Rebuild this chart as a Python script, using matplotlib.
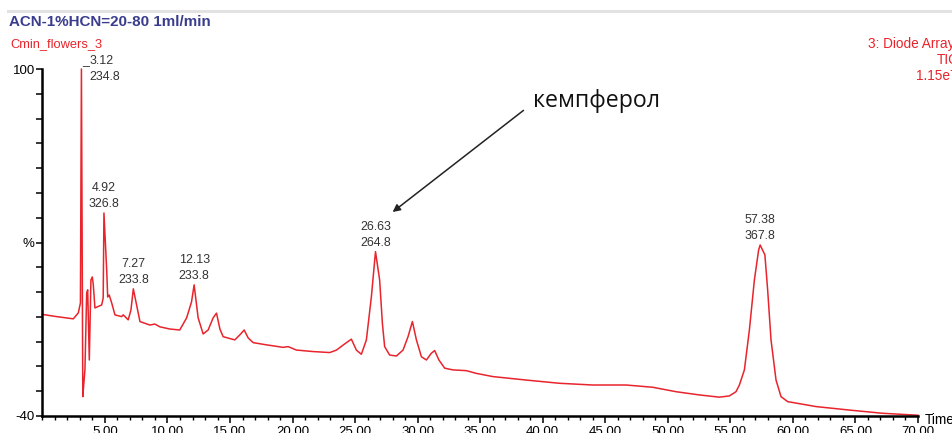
import numpy as np
import matplotlib
matplotlib.use("Agg")
import matplotlib.pyplot as plt
from matplotlib.lines import Line2D

plt.rcParams['font.family'] = ['Liberation Sans', 'DejaVu Sans']

# retention time, min / relative signal, %
rt = [0.0, 1.0, 2.47, 2.87, 3.04, 3.12, 3.23, 3.31, 3.40, 3.54, 3.62, 3.75, 3.88, 3.99, 4.07, 4.20,
      4.74, 4.86, 4.92, 5.14, 5.22, 5.34, 5.54, 5.80, 6.33, 6.46, 6.86, 7.08, 7.27, 7.61, 7.80,
      8.59, 8.99, 9.38, 10.18, 10.98, 11.53, 11.92, 12.13, 12.45, 12.85, 13.25, 13.65, 13.92,
      14.19, 14.45, 15.38, 15.78, 16.13, 16.45, 16.85, 17.92, 19.24, 19.64, 20.31, 21.64, 22.97,
      23.51, 24.17, 24.70, 25.10, 25.50, 25.90, 26.30, 26.63, 26.96, 27.18, 27.36, 27.76, 28.30,
      28.83, 29.23, 29.58, 29.90, 30.30, 30.70, 31.09, 31.36, 31.70, 32.16, 32.82, 33.89, 34.69,
      36.01, 38.68, 41.34, 44.00, 46.67, 48.79, 50.66, 52.52, 54.12, 54.92, 55.45, 55.72, 56.12,
      56.52, 56.92, 57.26, 57.38, 57.76, 57.98, 58.25, 58.65, 59.05, 59.58, 61.85, 64.50, 67.17,
      70.0]
signal = [1.0, 0.2, -0.8, 1.6, 5.6, 100.0, -32.2, -27.0, -21.4, 9.6, 10.9, -17.4, 14.9, 16.1, 12.9, 3.6,
          4.8, 7.6, 41.9, 18.9, 8.0, 8.8, 5.6, 0.8, 0.1, 0.8, -1.2, 2.8, 11.3, 2.8, -1.9,
          -3.3, -2.9, -4.0, -4.9, -5.3, -0.4, 6.0, 12.9, -0.4, -6.9, -5.3, -0.4, 1.5,
          -4.9, -8.0, -9.3, -7.3, -5.3, -8.5, -10.4, -11.3, -12.3, -12.0, -13.4, -14.0, -14.4,
          -13.4, -10.9, -9.0, -13.4, -15.1, -9.3, 8.1, 26.3, 14.9, -2.6, -12.0, -15.4, -15.8,
          -13.4, -8.0, -1.9, -9.3, -16.1, -17.4, -14.7, -13.6, -17.4, -20.7, -21.4, -21.7, -22.8,
          -24.1, -25.5, -26.8, -27.5, -27.5, -28.4, -30.2, -31.5, -32.4, -31.9, -30.2, -27.5, -21.4,
          -5.3, 14.9, 27.0, 29.0, 25.0, 10.9, -9.3, -25.5, -32.2, -34.2, -36.2, -37.6, -38.9,
          -39.7]

peak_rt = [3.12, 4.92, 7.27, 12.13, 26.63, 57.38]
peak_nm = ["234.8", "326.8", "233.8", "233.8", "264.8", "367.8"]

xticks = [5, 10, 15, 20, 25, 30, 35, 40, 45, 50, 55, 60, 65, 70]
xticklabels = ["%.2f" % v for v in xticks]

W, H = 952, 433
fig = plt.figure(figsize=(W / 100, H / 100), dpi=100)
ax = fig.add_axes([42.4 / W, 1 - 416 / H, (918 - 42.4) / W, (416 - 69) / H])

red = '#e8242c'
ax.plot(rt, signal, color=red, lw=1.1, clip_on=False)
ax.set_xlim(0, 70)
ax.set_ylim(-40, 100)

for s in ['top', 'right']:
    ax.spines[s].set_visible(False)
for s in ['left', 'bottom']:
    ax.spines[s].set_linewidth(1.8)

ax.set_xticks(xticks)
ax.set_xticklabels(xticklabels)
ax.set_xticks(np.arange(0, 71, 1), minor=True)
ax.tick_params(axis='x', which='major', length=5, width=1.1, pad=2.5, labelsize=9.5)
ax.tick_params(axis='x', which='minor', length=3, width=1.0)

yt = list(range(-40, 101, 10))
ax.set_yticks(yt)
ax.set_yticklabels(['-40' if v == -40 else '100' if v == 100 else '%' if v == 30 else '' for v in yt])
ax.tick_params(axis='y', length=4, width=1.1, pad=1.5, labelsize=9.5)

ax.text(70.5, -41.6, "Time", fontsize=9.8, va='center', ha='left', clip_on=False)

# peak labels
for t, nm in zip(peak_rt, peak_nm):
    h = np.interp(t, rt, signal)
    if t == peak_rt[0]:
        ax.annotate("%.2f\n%s" % (t, nm), xy=(t, h), xytext=(6, 10), textcoords='offset points',
                    ha='left', va='top', fontsize=8.9, color='#333333', linespacing=1.45,
                    annotation_clip=False)
        ax.annotate("_", xy=(t, h), xytext=(5.5, 10), textcoords='offset points',
                    ha='right', va='top', fontsize=8.9, color='#333333', annotation_clip=False)
    else:
        ax.annotate("%.2f\n%s" % (t, nm), xy=(t, h), xytext=(0, 2), textcoords='offset points',
                    ha='center', va='bottom', fontsize=8.9, color='#333333', linespacing=1.45,
                    annotation_clip=False)

# kaempferol arrow
ax.annotate("", xy=(28.0, 42.3), xytext=(38.46, 83.3),
            arrowprops=dict(arrowstyle='-|>', color='#222222', lw=1.1, mutation_scale=11,
                            shrinkA=0, shrinkB=0), annotation_clip=False)
ax.text(39.2, 87.1, "кемпферол", fontsize=16.7, family=['Open Sans', 'DejaVu Sans'],
        ha='left', va='center', color='#111111', clip_on=False)

# header
fig.add_artist(Line2D([8 / W, 1], [1 - 11 / H] * 2, color='#e2e2e2', lw=2.2))
fig.text(9 / W, 1 - 22 / H, "ACN-1%HCN=20-80 1ml/min", fontsize=10.9, fontweight='bold',
         color='#3a3d8e', va='center', ha='left')
fig.text(10 / W, 1 - 44 / H, "Cmin_flowers_3", fontsize=9.3, color=red, va='center', ha='left')
fig.text(868 / W, 1 - 44 / H, "3: Diode Array", fontsize=9.8, color=red, va='center', ha='left')
fig.text(937 / W, 1 - 60 / H, "TIC", fontsize=9.8, color=red, va='center', ha='left')
fig.text(916 / W, 1 - 76 / H, "1.15e7", fontsize=9.8, color=red, va='center', ha='left')

fig.savefig("out.png", dpi=100)
